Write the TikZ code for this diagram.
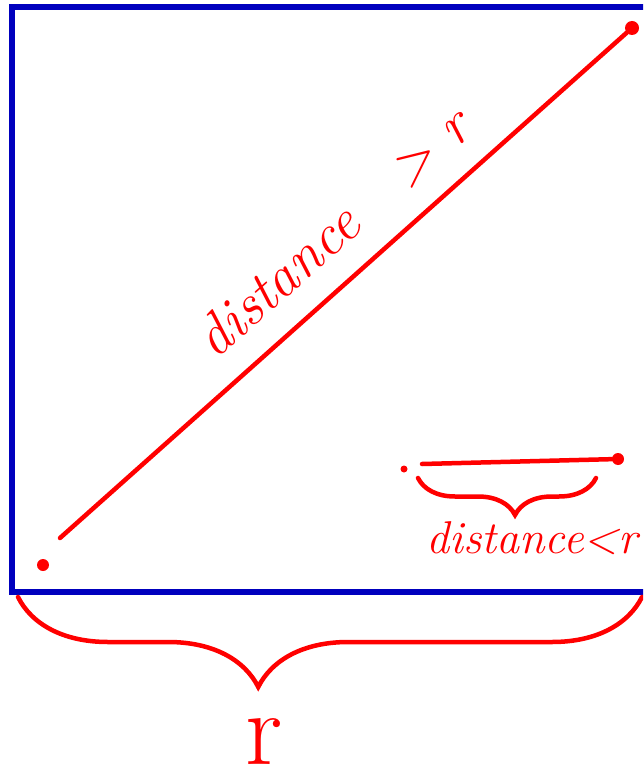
\documentclass[tikz,border=0pt]{standalone}
\usepackage{tikz}
\usetikzlibrary{positioning,decorations.pathreplacing}
\definecolor{penblue}{RGB}{0,0,190}
\definecolor{penred}{RGB}{255,0,0}

\begin{document}
\begin{tikzpicture}[x=1pt, y=-1pt, every node/.style={text=penred, inner sep=0pt},
    dot/.style={circle, fill=penred, inner sep=0pt, minimum size=12pt},
    pen/.style={draw=penred, line width=4.5pt, line cap=round}]
    \clip (0,0) rectangle (643,775);
    \draw[penblue, line width=5.5pt] (12,7) rectangle (690,592);

    \node[dot] (far1) at (43,565) {};
    \node[dot, minimum size=14pt] (far2) at (632,28) {};
    \coordinate (farstart) at (60,538);
    \node[rotate=41.4, font=\fontsize{58}{58}\selectfont\itshape] (farlbl) at (332,232) {distance\quad >\ r};

    \node[dot, minimum size=7pt] (near1) at (404,469) {};
    \node[dot] (near2) at (618,459) {};
    \coordinate (nearstart) at (422,464);
    \coordinate (nbl) at (418,478);
    \coordinate (nbr) at (596,478);
    \node[font=\fontsize{46}{46}\selectfont\itshape] (nearlbl) at (532,538) {distance<r};

    \coordinate (sbl) at (18,597);
    \coordinate (sbr) at (642,597);
    \node[anchor=base, font=\fontsize{105}{105}\selectfont] (side) at (264,764) {r};

    \draw[pen] (farstart) -- (far2);
    \draw[pen] (nearstart) -- (near2);
    \draw[pen, decorate, decoration={brace, mirror, amplitude=37pt, aspect=0.545}] (nbl) -- (nbr);
    \draw[pen, decorate, decoration={brace, mirror, amplitude=90pt, aspect=0.385}] (sbl) -- (sbr);
  \end{tikzpicture}
\end{document}
